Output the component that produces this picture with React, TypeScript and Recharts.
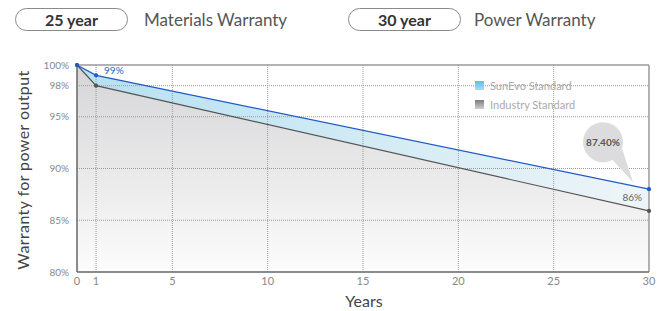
import { ComposedChart, Area, Line, XAxis, YAxis, ReferenceLine, LabelList } from 'recharts';

const years = [0, 1, 30];
const sunevo = [100, 99, 88];
const industry = [100, 98, 85.9];
const xTicks = [0, 1, 5, 10, 15, 20, 25, 30];
const yTicks = [80, 85, 90, 95, 98, 100];

const data = years.map((y, i) => ({
    year: y,
    sunevo: sunevo[i],
    industry: industry[i],
    band: [industry[i], sunevo[i]],
}));

const FONT = 'Lato, "Noto Sans", sans-serif';

// Small labels drawn at chosen points
const SunevoLabel = (props: any) => {
    const { x, y, index } = props;
    if (index === 1) {
        return <text x={x + 8} y={y - 1} fontSize={10} fill="#2a5fc0" fontFamily={FONT}>99%</text>;
    }
    if (index === 2) {
        const cx = x - 46;
        const cy = y - 47;
        return (
            <g>
                <path d={`M ${cx + 9} ${cy + 17} L ${x - 16} ${y - 7} L ${cx + 19} ${cy + 6} Z`} fill="#dcdcde" />
                <circle cx={cx} cy={cy} r={20} fill="#dcdcde" />
                <text x={cx} y={cy + 4} fontSize={10} fontWeight={700} fill="#555" textAnchor="middle" fontFamily={FONT}>87.40%</text>
            </g>
        );
    }
    return null;
};

const IndustryLabel = (props: any) => {
    const { x, y, index } = props;
    if (index === 2) {
        return <text x={x - 7} y={y - 10} fontSize={10} fill="#666" textAnchor="end" fontFamily={FONT}>86%</text>;
    }
    return null;
};

function Pill({ left, label }: { left: number; label: string }) {
    return (
        <div style={{
            position: 'absolute', left, top: 8, width: 113, height: 23, boxSizing: 'border-box',
            border: '1px solid #8a8a8a', borderRadius: 12, textAlign: 'center', lineHeight: '21px',
            fontSize: 16, fontWeight: 700, color: '#333',
        }}>{label}</div>
    );
}

export default function App() {
    return (
        <div style={{ position: 'absolute', left: 0, top: 0, width: 666, height: 311, background: '#fff', fontFamily: FONT, overflow: 'hidden' }}>
            <Pill left={15} label="25 year" />
            <div style={{ position: 'absolute', left: 144, top: 8, lineHeight: '23px', fontSize: 17, color: '#555' }}>Materials Warranty</div>
            <Pill left={348} label="30 year" />
            <div style={{ position: 'absolute', left: 474, top: 8, lineHeight: '23px', fontSize: 17, color: '#555' }}>Power Warranty</div>

            <div style={{
                position: 'absolute', left: 22, top: 170, transform: 'translate(-50%, -50%) rotate(-90deg)',
                whiteSpace: 'nowrap', fontSize: 16, letterSpacing: 0.4, color: '#444',
            }}>Warranty for power output</div>
            <div style={{ position: 'absolute', left: 364, top: 300, transform: 'translate(-50%, -50%)', fontSize: 16, color: '#444' }}>Years</div>

            <div style={{ position: 'absolute', left: 0, top: 0 }}>
                <ComposedChart width={666} height={311} data={data} margin={{ top: 65, right: 17, left: 17, bottom: 9 }}>
                    <defs>
                        <linearGradient id="grayFill" x1="0" y1="0" x2="0" y2="1">
                            <stop offset="0%" stopColor="#d5d5d7" />
                            <stop offset="100%" stopColor="#fcfcfc" />
                        </linearGradient>
                        <linearGradient id="blueFill" x1="0" y1="0" x2="1" y2="0">
                            <stop offset="0%" stopColor="#b6e0f1" />
                            <stop offset="100%" stopColor="#eef5f8" />
                        </linearGradient>
                    </defs>
                    <XAxis
                        dataKey="year"
                        type="number"
                        domain={[0, 30]}
                        ticks={xTicks}
                        interval={0}
                        tickLine={false}
                        tickSize={3}
                        axisLine={{ stroke: '#666', strokeWidth: 1.5 }}
                        tick={{ fill: '#888', fontSize: 11, fontFamily: FONT }}
                    />
                    <YAxis
                        type="number"
                        domain={[80, 100]}
                        ticks={yTicks}
                        interval={0}
                        tickLine={false}
                        axisLine={{ stroke: '#666', strokeWidth: 1.5 }}
                        tick={{ fill: '#888', fontSize: 10, fontFamily: FONT }}
                        tickFormatter={(v) => `${v}%`}
                    />
                    <Area type="linear" dataKey="industry" baseValue={80} stroke="none" fill="url(#grayFill)" fillOpacity={1} isAnimationActive={false} />
                    <Area type="linear" dataKey="band" stroke="none" fill="url(#blueFill)" fillOpacity={1} isAnimationActive={false} />
                    {/* dotted grid drawn over the fills */}
                    {xTicks.filter((t) => t > 0 && t < 30).map((t) => (
                        <ReferenceLine key={`gx${t}`} x={t} stroke="#9a9a9a" strokeDasharray="1 1" />
                    ))}
                    {yTicks.filter((t) => t > 80 && t < 100).map((t) => (
                        <ReferenceLine key={`gy${t}`} y={t} stroke="#9a9a9a" strokeDasharray="1 1" />
                    ))}
                    <ReferenceLine y={100} stroke="#999" strokeWidth={1.5} />
                    <ReferenceLine x={30} stroke="#999" strokeWidth={1.5} />
                    <Line type="linear" dataKey="industry" stroke="#555" strokeWidth={1.2} dot={{ r: 1.5, fill: '#555', stroke: '#555' }} isAnimationActive={false}>
                        <LabelList dataKey="industry" content={IndustryLabel} />
                    </Line>
                    <Line type="linear" dataKey="sunevo" stroke="#1f5bc6" strokeWidth={1.2} dot={{ r: 1.5, fill: '#1f5bc6', stroke: '#1f5bc6' }} isAnimationActive={false}>
                        <LabelList dataKey="sunevo" content={SunevoLabel} />
                    </Line>
                </ComposedChart>
            </div>

            <div style={{ position: 'absolute', left: 475, top: 76, fontSize: 11, color: '#aaa', lineHeight: '19px' }}>
                <div style={{ display: 'flex', alignItems: 'center' }}>
                    <span style={{ width: 9, height: 9, marginRight: 6, background: 'linear-gradient(#5fbde9, #a9dcf1)' }} />SunEvo Standard
                </div>
                <div style={{ display: 'flex', alignItems: 'center' }}>
                    <span style={{ width: 9, height: 9, marginRight: 6, background: 'linear-gradient(#7c7c7c, #cfcfcf)' }} />Industry Standard
                </div>
            </div>
        </div>
    );
}
